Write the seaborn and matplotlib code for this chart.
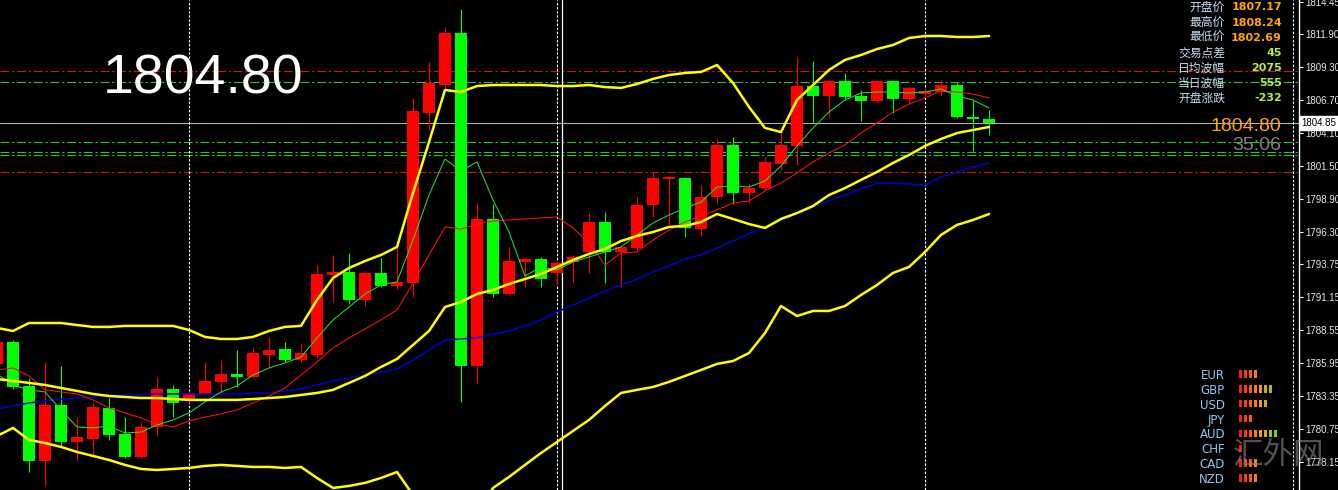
import numpy as np
import seaborn as sns
import matplotlib.pyplot as plt

# candle data (oldest first), bar index -1 .. 61
opens = [1785.86, 1787.59, 1784.12, 1778.20, 1782.62, 1779.70, 1779.94, 1782.38, 1780.33, 1778.52,
         1780.89, 1783.88, 1783.02, 1783.49, 1784.44, 1785.07, 1784.83, 1786.57, 1787.04, 1786.17,
         1786.57, 1792.88, 1793.12, 1790.91, 1793.04, 1792.01, 1792.25, 1805.66, 1807.87, 1811.98,
         1785.70, 1797.30, 1791.38, 1793.91, 1794.14, 1793.04, 1793.91, 1794.69, 1797.06, 1794.69,
         1795.01, 1798.40, 1800.46, 1800.53, 1796.51, 1799.03, 1803.14, 1799.35, 1799.74, 1801.64,
         1803.06, 1807.79, 1807.00, 1808.19, 1807.00, 1806.61, 1808.19, 1806.77, 1807.17, 1807.32,
         1807.87, 1805.35, 1805.19]
highs = [1787.75, 1787.75, 1784.75, 1786.01, 1785.70, 1781.67, 1782.78, 1783.17, 1781.67, 1781.28,
         1784.83, 1784.20, 1783.73, 1786.01, 1786.17, 1786.96, 1787.12, 1787.99, 1787.59, 1787.51,
         1793.67, 1794.46, 1794.62, 1793.20, 1794.22, 1795.09, 1806.85, 1809.69, 1812.37, 1813.87,
         1798.56, 1798.48, 1795.09, 1794.30, 1794.30, 1794.06, 1794.46, 1797.77, 1797.85, 1795.17,
         1799.03, 1801.01, 1800.61, 1800.61, 1799.98, 1803.61, 1803.77, 1800.14, 1802.19, 1804.16,
         1810.08, 1809.77, 1808.27, 1808.82, 1807.48, 1808.27, 1808.27, 1807.79, 1807.56, 1808.24,
         1808.03, 1806.69, 1805.90]
lows = [1785.70, 1783.88, 1777.33, 1776.23, 1779.31, 1778.28, 1778.52, 1779.86, 1778.44, 1778.44,
        1780.25, 1781.67, 1782.78, 1783.41, 1783.41, 1784.04, 1784.75, 1785.62, 1786.01, 1786.01,
        1786.33, 1790.75, 1790.59, 1790.43, 1791.93, 1791.78, 1791.14, 1804.32, 1807.64, 1782.86,
        1784.36, 1791.14, 1791.30, 1791.93, 1791.93, 1792.09, 1792.33, 1793.04, 1792.25, 1791.93,
        1794.85, 1797.46, 1796.83, 1795.88, 1795.96, 1798.56, 1798.48, 1798.56, 1799.59, 1801.17,
        1801.56, 1804.95, 1805.35, 1806.69, 1805.03, 1806.53, 1805.66, 1806.45, 1807.00, 1807.08,
        1805.27, 1802.69, 1803.93]
closes = [1787.59, 1784.04, 1778.20, 1782.62, 1779.70, 1780.10, 1782.46, 1780.25, 1778.52, 1780.89,
          1783.88, 1782.78, 1783.57, 1784.52, 1785.07, 1784.83, 1786.72, 1786.96, 1786.17, 1786.72,
          1792.96, 1793.12, 1790.91, 1793.04, 1792.01, 1792.33, 1805.82, 1808.03, 1811.98, 1785.70,
          1797.30, 1791.38, 1793.98, 1794.14, 1792.56, 1793.83, 1794.30, 1797.06, 1794.69, 1795.09,
          1798.40, 1800.53, 1800.61, 1796.59, 1799.03, 1803.14, 1799.35, 1799.74, 1801.80, 1803.14,
          1807.79, 1807.00, 1808.19, 1806.93, 1806.61, 1808.19, 1806.77, 1807.64, 1807.40, 1807.87,
          1805.35, 1805.19, 1804.85]

# indicator lines
bb_upper = [1788.70, 1788.46, 1789.09, 1789.09, 1789.09, 1788.93, 1788.78, 1788.78, 1788.86, 1788.86,
            1788.86, 1788.86, 1788.54, 1787.99, 1787.83, 1787.83, 1787.99, 1788.46, 1788.78, 1788.86,
            1790.91, 1792.64, 1793.43, 1793.98, 1794.46, 1795.09, 1799.35, 1803.37, 1807.48, 1807.32,
            1807.79, 1807.87, 1807.87, 1807.87, 1807.87, 1807.79, 1807.79, 1807.87, 1807.71, 1807.64,
            1807.95, 1808.35, 1808.66, 1808.82, 1808.90, 1809.45, 1808.03, 1806.14, 1804.48, 1804.16,
            1806.69, 1807.87, 1809.06, 1809.85, 1810.24, 1810.71, 1811.03, 1811.58, 1811.74, 1811.74,
            1811.66, 1811.66, 1811.74]
bb_mid = [1784.67, 1784.52, 1784.36, 1784.20, 1783.96, 1783.73, 1783.49, 1783.33, 1783.25, 1783.17,
          1783.17, 1783.09, 1783.02, 1783.02, 1783.02, 1783.02, 1783.09, 1783.17, 1783.25, 1783.41,
          1783.57, 1783.81, 1784.36, 1784.91, 1785.62, 1786.25, 1787.36, 1788.46, 1790.35, 1790.75,
          1791.38, 1791.70, 1792.17, 1792.56, 1792.96, 1793.51, 1794.06, 1794.54, 1794.93, 1795.56,
          1795.96, 1796.27, 1796.67, 1796.75, 1797.06, 1797.69, 1797.30, 1796.90, 1796.59, 1797.30,
          1797.77, 1798.32, 1799.19, 1799.74, 1800.38, 1801.01, 1801.72, 1802.35, 1803.06, 1803.61,
          1804.08, 1804.32, 1804.56]
bb_lower = [1780.17, 1780.81, 1779.86, 1779.62, 1779.31, 1778.91, 1778.60, 1778.28, 1777.89, 1777.57,
            1777.49, 1777.57, 1777.65, 1777.81, 1777.89, 1777.81, 1777.73, 1777.73, 1777.65, 1777.73,
            1776.86, 1776.07, 1776.23, 1776.47, 1776.86, 1777.33, 1775.52, 1773.94, 1772.36, 1772.76,
            1773.94, 1776.07, 1776.94, 1777.89, 1778.83, 1779.70, 1780.57, 1781.44, 1782.54, 1783.57,
            1783.81, 1784.04, 1784.44, 1784.91, 1785.38, 1785.86, 1786.09, 1786.72, 1788.30, 1790.43,
            1789.64, 1790.04, 1790.04, 1790.43, 1791.30, 1792.09, 1793.04, 1793.51, 1794.69, 1796.04,
            1796.83, 1797.22, 1797.69]
ma_fast = [1785.07, 1784.20, 1783.81, 1783.65, 1782.23, 1780.89, 1780.81, 1780.96, 1780.41, 1780.49,
           1781.04, 1781.44, 1781.99, 1782.86, 1783.65, 1784.12, 1784.99, 1785.54, 1785.94, 1786.41,
           1787.91, 1789.33, 1790.35, 1791.38, 1792.09, 1792.33, 1795.64, 1799.19, 1802.03, 1801.09,
           1801.80, 1798.80, 1796.27, 1792.80, 1793.51, 1793.27, 1793.91, 1794.30, 1794.69, 1795.09,
           1796.04, 1796.98, 1797.61, 1798.17, 1798.64, 1799.82, 1799.90, 1799.82, 1800.30, 1801.48,
           1803.06, 1804.48, 1805.74, 1806.69, 1807.24, 1807.32, 1807.32, 1807.24, 1807.32, 1807.56,
           1807.00, 1806.69, 1806.06]
ma_mid = [1785.38, 1785.54, 1784.91, 1783.81, 1783.65, 1783.49, 1783.02, 1782.39, 1781.99, 1781.60,
          1781.12, 1780.89, 1781.36, 1781.67, 1781.91, 1782.23, 1782.78, 1783.33, 1783.96, 1784.99,
          1786.01, 1787.12, 1787.91, 1788.62, 1789.33, 1790.12, 1792.25, 1794.46, 1796.67, 1796.51,
          1796.90, 1797.14, 1797.22, 1797.30, 1797.38, 1797.46, 1796.59, 1795.40, 1793.67, 1794.62,
          1794.69, 1795.64, 1796.43, 1797.06, 1797.54, 1798.01, 1798.56, 1798.72, 1799.51, 1800.14,
          1800.93, 1801.80, 1802.51, 1803.14, 1804.08, 1804.87, 1805.74, 1806.37, 1806.85, 1807.40,
          1807.32, 1807.16, 1806.85]
ma_slow = [1782.31, 1782.54, 1782.78, 1782.94, 1783.09, 1783.17, 1783.25, 1783.33, 1783.41, 1783.41,
           1783.49, 1783.49, 1783.49, 1783.49, 1783.49, 1783.49, 1783.57, 1783.57, 1783.73, 1783.88,
           1784.20, 1784.52, 1784.75, 1784.99, 1785.23, 1785.46, 1786.17, 1786.96, 1787.75, 1787.83,
           1787.91, 1788.22, 1788.46, 1788.86, 1789.33, 1789.96, 1790.51, 1791.06, 1791.62, 1792.09,
           1792.56, 1793.12, 1793.59, 1794.14, 1794.46, 1795.01, 1795.56, 1796.12, 1796.67, 1797.14,
           1797.69, 1798.25, 1798.72, 1799.19, 1799.67, 1800.14, 1800.14, 1800.06, 1799.98, 1800.61,
           1801.01, 1801.40, 1801.72]

red_levels = [1809.00, 1801.03]
green_levels = [1808.13, 1803.40, 1802.56, 1802.35]
last_price = 1804.85
separators = [11, 34, 57, 80]
vline_obj = 34.3

price_ticks = [1814.45, 1811.90, 1809.30, 1806.70, 1804.10, 1801.50, 1798.90, 1796.30,
               1793.75, 1791.15, 1788.55, 1785.95, 1783.35, 1780.75, 1778.15]

info_labels = ['开盘价', '最高价', '最低价', '交易点差', '日均波幅', '当日波幅', '开盘涨跌']
info_values = ['1807.17', '1808.24', '1802.69', '45', '2075', '555', '-232']

currencies = ['EUR', 'GBP', 'USD', 'JPY', 'AUD', 'CHF', 'CAD', 'NZD']
strength = [4, 7, 6, 3, 8, 1, 4, 4]

idx = np.arange(-1, 62)

sns.set_theme(style='dark', rc={'axes.facecolor': 'black', 'figure.facecolor': 'black'})
plt.rcParams['font.family'] = ['Liberation Sans', 'DejaVu Sans']

W, H = 1338, 490
fig = plt.figure(figsize=(W / 100, H / 100), dpi=100)
ax = fig.add_axes([0, 0, 1299 / W, 1])
ax.set_facecolor('black')

RED = '#FF0000'
GREEN = '#00FF00'
dashdot = (0, (8, 2.5, 2, 2.5))

# levels and separators behind candles
for lv in red_levels:
    ax.axhline(lv, color='#E01010', lw=0.8, ls=dashdot, zorder=1)
for lv in green_levels:
    ax.axhline(lv, color='#30C030', lw=0.8, ls=dashdot, zorder=1)
ax.axhline(last_price, color='#B0B0B0', lw=0.8, zorder=1)
for s in separators:
    ax.axvline(s, color='white', lw=0.8, ls=(0, (2.2, 1.5)), zorder=1)
ax.axvline(vline_obj, color='white', lw=0.9, zorder=1)

# candles
o = np.array(opens)
c = np.array(closes)
cols = [RED if cc >= oo else GREEN for oo, cc in zip(o, c)]
ax.vlines(idx, lows, highs, colors=cols, lw=0.8, zorder=3)
bottoms = np.minimum(o, c)
heights = np.maximum(np.abs(c - o), 0.12)
ax.bar(idx, heights, bottom=bottoms, width=0.69, color=cols, lw=0, zorder=3)

# indicators
sns.lineplot(x=idx, y=ma_slow, ax=ax, color='#0000CD', lw=1.1, zorder=4)
sns.lineplot(x=idx, y=ma_mid, ax=ax, color='#FF1010', lw=0.75, zorder=4)
sns.lineplot(x=idx, y=ma_fast, ax=ax, color='#20E020', lw=0.75, zorder=4)
for band in (bb_upper, bb_mid, bb_lower):
    sns.lineplot(x=idx, y=band, ax=ax, color='#FFFF00', lw=1.8, zorder=5)

ax.set_xlim(-13 / 16, 1286 / 16)
ax.set_ylim(1775.91, 1814.58)
ax.set_xticks([])
ax.set_xlabel('')
ax.set_ylabel('')
ax.grid(False)
for sp in ['top', 'left', 'bottom']:
    ax.spines[sp].set_visible(False)
ax.spines['right'].set_color('white')
ax.spines['right'].set_linewidth(1)
ax.yaxis.tick_right()
ax.set_yticks(price_ticks)
ax.set_yticklabels([f'{p:.2f}' for p in price_ticks])
ax.tick_params(axis='y', colors='white', labelcolor='#E8E8E8', labelsize=7,
               length=3, width=0.8, pad=1.2, right=True)

# current price box on the axis
ax.text(1.002, last_price, f'{last_price:.2f}', transform=ax.get_yaxis_transform(),
        ha='left', va='center', fontsize=7, color='black', zorder=10,
        bbox=dict(boxstyle='square,pad=0.2', fc='white', ec='white'), clip_on=False)

# big price text
fig.text(103 / W, 1 - 93 / H, '1804.80', color='white', fontsize=40,
         ha='left', va='baseline', family=['Liberation Sans', 'DejaVu Sans'])

# info panel
for i, (lab, val) in enumerate(zip(info_labels, info_values)):
    yy = 1 - (7.5 + 15.1 * i) / H
    fig.text(1225 / W, yy, lab, ha='right', va='center', fontsize=8.5, color='#C8DCF0',
             family=['Noto Sans CJK SC', 'DejaVu Sans'])
    vc = '#FFA500' if i < 3 else '#B4F03C'
    fig.text(1282 / W, yy, val, ha='right', va='center', fontsize=8, color=vc,
             fontweight='bold', family=['DejaVu Sans'])

fig.text(1281 / W, 1 - 131 / H, '1804.80', ha='right', va='baseline', fontsize=14,
         color='#FFA500')
fig.text(1281 / W, 1 - 150 / H, '35:06', ha='right', va='baseline', fontsize=14,
         color='#808080')

# currency strength panel
ax2 = fig.add_axes([1239 / W, 1 - 485.5 / H, 50 / W, 119 / H])
ax2.patch.set_alpha(0)
grad = ['#F41E0A', '#FF3C0A', '#FF5A0A', '#FF7A10', '#F59A18', '#D2AE14', '#AABE18', '#82C81E']
for r, n in enumerate(strength):
    ax2.bar(np.arange(n), 0.5, bottom=r - 0.25, width=0.62, color=grad[:n], lw=0)
ax2.set_xlim(-0.3, 9.7)
ax2.set_ylim(7.5, -0.5)
ax2.set_xticks([])
ax2.set_yticks(range(len(currencies)))
ax2.set_yticklabels(currencies)
ax2.tick_params(axis='y', length=0, pad=10, labelsize=8.5, labelcolor='#8CC8F0')
for lbl in ax2.get_yticklabels():
    lbl.set_family(['DejaVu Sans'])
ax2.grid(False)
for sp in ax2.spines.values():
    sp.set_visible(False)

# watermark
fig.text(1278 / W, 1 - 456 / H, '汇外网', ha='center', va='center', fontsize=22,
         color='#8A8A8A', alpha=0.6, family=['Noto Sans CJK SC', 'DejaVu Sans'], zorder=20)

fig.savefig('out.png', dpi=100, facecolor='black')
